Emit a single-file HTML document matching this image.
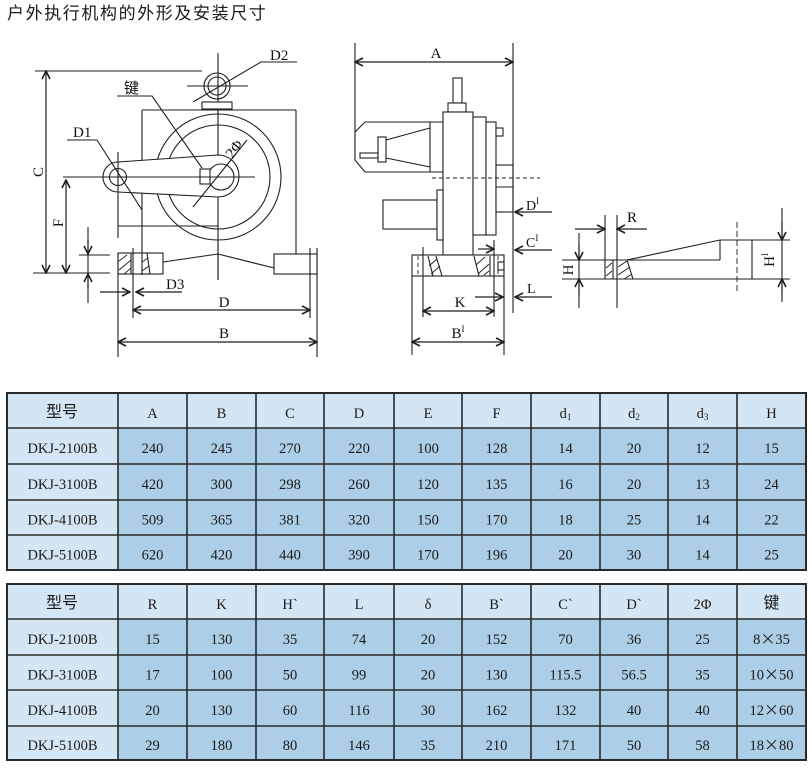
<!DOCTYPE html>
<html><head><meta charset="utf-8"><style>
html,body{margin:0;padding:0;background:#fff;}
svg{display:block;}
.ln{stroke:#1e1e1e;stroke-width:1.1;fill:none;}
.th{stroke:#1e1e1e;stroke-width:0.9;fill:none;}
.ar{stroke:#1e1e1e;stroke-width:1.2;fill:none;}
.lbl{font-family:"Liberation Serif",serif;font-size:15px;fill:#111;}
.tt{font-family:"Liberation Serif","Noto Sans CJK SC",serif;font-size:14.5px;fill:#1a1a1a;text-anchor:middle;}
.cj{font-family:"Liberation Sans","Noto Sans CJK SC",sans-serif;font-size:16px;fill:#1a1a1a;text-anchor:middle;}
.x{font-family:"Noto Sans CJK SC",sans-serif;font-size:15px;}
.grid{stroke:#2a2a2a;stroke-width:1.6;fill:none;}
</style></head><body>
<svg width="812" height="769" viewBox="0 0 812 769" xmlns="http://www.w3.org/2000/svg">
<defs>
<marker id="ah" viewBox="0 0 10 10" refX="9" refY="5" markerWidth="10" markerHeight="10" markerUnits="userSpaceOnUse" orient="auto-start-reverse">
<polyline points="1,1 9,5 1,9" fill="none" stroke="#1e1e1e" stroke-width="1.6"/>
</marker>
</defs>
<rect width="812" height="769" fill="#fff"/>
<text x="7" y="19" style="font-family:'Liberation Sans','Noto Sans CJK SC',sans-serif;font-size:17px;letter-spacing:1.6px;fill:#1a1a1a;">户外执行机构的外形及安装尺寸</text>

<!-- ===== LEFT DIAGRAM ===== -->
<g class="ln">
<line x1="218" y1="53" x2="218" y2="280"/>
<line x1="35" y1="71" x2="202" y2="71"/>
<circle cx="217" cy="86" r="13"/>
<circle cx="217" cy="86" r="9"/>
<line x1="187" y1="86" x2="248" y2="86"/>
<rect x="202" y="102" width="30" height="7" fill="#fff"/>
<polyline points="193,102 261,62 297,62"/>
<line x1="142" y1="110" x2="296" y2="110"/>
<line x1="142" y1="110" x2="142" y2="275"/>
<line x1="296" y1="110" x2="296" y2="254"/>
<circle cx="218" cy="177" r="63" fill="#fff"/>
<circle cx="218" cy="177" r="52"/>
<line x1="218" y1="110" x2="218" y2="280"/>
<path d="M118,162 L218,155 A21,21 0 0 1 218,197 L118,192 A15,15 0 0 1 118,162 Z" fill="#fff"/>
<circle cx="221" cy="177" r="13"/>
<circle cx="118" cy="177" r="8.5"/>
<rect x="200" y="169" width="10" height="15" fill="#fff"/>
<line x1="63" y1="177" x2="255" y2="177"/>
<line x1="118" y1="152" x2="118" y2="238"/>
<line x1="118" y1="226" x2="218" y2="226"/>
<polyline points="67,140 97,140 142,210"/>
<polyline points="117,96 152,96 202,168"/>
<line x1="247" y1="140" x2="193" y2="207"/>
<rect x="118" y="253" width="45" height="21" fill="#fff"/>
<rect x="274" y="254" width="43" height="20" fill="#fff"/>
<polyline points="163,262 218,254 274,268"/>
<line x1="131" y1="253" x2="131" y2="274"/>
<line x1="142" y1="253" x2="142" y2="275"/>
<line x1="147" y1="253" x2="150" y2="274"/>
<line x1="118" y1="253" x2="118" y2="357"/>
<line x1="133" y1="248" x2="133" y2="318"/>
<line x1="310" y1="248" x2="310" y2="318"/>
<line x1="317" y1="248" x2="317" y2="357"/>
<line x1="33" y1="273" x2="110" y2="273"/>
<line x1="79" y1="255" x2="110" y2="255"/>
<line x1="88" y1="227" x2="88" y2="303"/>
</g>
<g class="th">
<line x1="119" y1="261" x2="127" y2="255"/>
<line x1="119" y1="270" x2="131" y2="260"/>
<line x1="124" y1="274" x2="131" y2="268"/>
<line x1="142" y1="262" x2="148" y2="258"/>
<line x1="142" y1="271" x2="149" y2="266"/>
</g>
<g class="ar">
<line x1="46" y1="71" x2="46" y2="273" marker-start="url(#ah)" marker-end="url(#ah)"/>
<line x1="66" y1="180" x2="66" y2="273" marker-start="url(#ah)" marker-end="url(#ah)"/>
<line x1="88" y1="240" x2="88" y2="254" marker-end="url(#ah)"/>
<line x1="88" y1="288" x2="88" y2="274" marker-end="url(#ah)"/>
<line x1="100" y1="292" x2="130" y2="292" marker-end="url(#ah)"/>
<line x1="182" y1="292" x2="136" y2="292" marker-end="url(#ah)"/>
<line x1="133" y1="310" x2="310" y2="310" marker-start="url(#ah)" marker-end="url(#ah)"/>
<line x1="118" y1="342" x2="317" y2="342" marker-start="url(#ah)" marker-end="url(#ah)"/>
</g>
<text class="lbl" x="270" y="60">D2</text>
<text class="lbl" x="73" y="137">D1</text>
<text x="124" y="93" style="font-family:'Liberation Sans','Noto Sans CJK SC',sans-serif;font-size:15px;fill:#111;">键</text>
<text class="lbl" transform="translate(238,152) rotate(-52)" text-anchor="middle">2Φ</text>
<text class="lbl" transform="translate(43,172) rotate(-90)" text-anchor="middle">C</text>
<text class="lbl" transform="translate(63,223) rotate(-90)" text-anchor="middle">F</text>
<text class="lbl" x="166" y="289">D3</text>
<text class="lbl" x="224" y="307" text-anchor="middle">D</text>
<text class="lbl" x="224" y="338" text-anchor="middle">B</text>

<!-- ===== MIDDLE DIAGRAM ===== -->
<g class="ln">
<line x1="355" y1="43" x2="355" y2="160"/>
<line x1="513" y1="43" x2="513" y2="153"/>
<polygon points="355,132 365,122 443,122 443,172 365,172 355,160" fill="#fff"/>
<line x1="430" y1="122" x2="430" y2="172"/>
<line x1="386" y1="140" x2="430" y2="128"/>
<line x1="386" y1="158" x2="430" y2="167"/>
<rect x="378" y="137" width="8" height="25" fill="#fff"/>
<rect x="360" y="153" width="18" height="5" fill="#fff"/>
<rect x="453" y="78" width="9" height="25" fill="#fff"/>
<rect x="448" y="103" width="18" height="9" fill="#fff"/>
<rect x="443" y="112" width="30" height="143" fill="#fff"/>
<rect x="473" y="117" width="13" height="118" fill="#fff"/>
<rect x="486" y="122" width="10" height="113" fill="#fff"/>
<rect x="496" y="128" width="7" height="8" fill="#fff"/>
<rect x="496" y="165" width="17" height="47" fill="#fff"/>
<line x1="496" y1="187" x2="513" y2="187"/>
<line x1="513" y1="153" x2="513" y2="313"/>
<rect x="383" y="200" width="54" height="29" fill="#fff"/>
<rect x="437" y="190" width="6" height="50" fill="#fff"/>
<rect x="412" y="255" width="92" height="21" fill="#fff"/>
<line x1="443" y1="255" x2="473" y2="255"/>
<line x1="428" y1="256" x2="433" y2="276"/>
<line x1="436" y1="256" x2="442" y2="276"/>
<line x1="474" y1="256" x2="479" y2="276"/>
<line x1="490" y1="256" x2="490" y2="276"/>
<rect x="498" y="262" width="6" height="8"/>
<line x1="423" y1="247" x2="423" y2="317"/>
<line x1="494" y1="240" x2="494" y2="317"/>
<line x1="412" y1="276" x2="412" y2="355"/>
<line x1="504" y1="276" x2="504" y2="355"/>
</g>
<g class="th" stroke-dasharray="4,3">
<line x1="432" y1="178" x2="540" y2="178"/>
<line x1="418" y1="256" x2="418" y2="276"/>
<line x1="498" y1="256" x2="498" y2="276"/>
</g>
<g class="th">
<line x1="429" y1="266" x2="437" y2="259"/>
<line x1="431" y1="274" x2="440" y2="266"/>
<line x1="476" y1="265" x2="485" y2="257"/>
<line x1="478" y1="274" x2="489" y2="264"/>
<line x1="484" y1="275" x2="489" y2="271"/>
</g>
<g class="ar">
<line x1="355" y1="62" x2="513" y2="62" marker-start="url(#ah)" marker-end="url(#ah)"/>
<line x1="552" y1="212" x2="515" y2="212" marker-end="url(#ah)"/>
<line x1="552" y1="250" x2="515" y2="250" marker-end="url(#ah)"/>
<line x1="478" y1="249" x2="494" y2="249" marker-end="url(#ah)"/>
<line x1="552" y1="297" x2="515" y2="297" marker-end="url(#ah)"/>
<line x1="475" y1="297" x2="503" y2="297" marker-end="url(#ah)"/>
<line x1="423" y1="311" x2="494" y2="311" marker-start="url(#ah)" marker-end="url(#ah)"/>
<line x1="412" y1="342" x2="504" y2="342" marker-start="url(#ah)" marker-end="url(#ah)"/>
</g>
<text class="lbl" x="436" y="58" text-anchor="middle">A</text>
<text class="lbl" x="526" y="210" style="font-size:14px">D<tspan font-size="9" dy="-6">I</tspan></text>
<text class="lbl" x="526" y="247" style="font-size:14px">C<tspan font-size="9" dy="-6">I</tspan></text>
<text class="lbl" x="527" y="293" style="font-size:14px">L</text>
<text class="lbl" x="460" y="307" text-anchor="middle">K</text>
<text class="lbl" x="458" y="338" text-anchor="middle">B<tspan font-size="9" dy="-6">I</tspan></text>

<!-- ===== RIGHT DIAGRAM ===== -->
<g class="ln">
<line x1="562" y1="279" x2="790" y2="279"/>
<line x1="562" y1="260" x2="720" y2="260"/>
<line x1="627" y1="260" x2="720" y2="240"/>
<line x1="720" y1="240" x2="790" y2="240"/>
<line x1="720" y1="240" x2="720" y2="260"/>
<line x1="752" y1="240" x2="752" y2="279"/>
<line x1="605" y1="215" x2="605" y2="279"/>
<line x1="617" y1="215" x2="617" y2="308"/>
<line x1="613" y1="260" x2="613" y2="279"/>
<line x1="627" y1="260" x2="633" y2="279"/>
<line x1="579" y1="233" x2="579" y2="308"/>
<line x1="782" y1="208" x2="782" y2="302"/>
</g>
<g class="th" stroke-dasharray="6,3">
<line x1="737" y1="222" x2="737" y2="293"/>
</g>
<g class="th">
<line x1="606" y1="268" x2="612" y2="263"/>
<line x1="606" y1="276" x2="612" y2="271"/>
<line x1="618" y1="267" x2="627" y2="261"/>
<line x1="618" y1="275" x2="630" y2="267"/>
<line x1="624" y1="279" x2="632" y2="274"/>
</g>
<g class="ar">
<line x1="575" y1="229" x2="605" y2="229" marker-end="url(#ah)"/>
<line x1="647" y1="229" x2="617" y2="229" marker-end="url(#ah)"/>
<line x1="579" y1="245" x2="579" y2="260" marker-end="url(#ah)"/>
<line x1="579" y1="295" x2="579" y2="279" marker-end="url(#ah)"/>
<line x1="782" y1="222" x2="782" y2="240" marker-end="url(#ah)"/>
<line x1="782" y1="295" x2="782" y2="279" marker-end="url(#ah)"/>
</g>
<text class="lbl" x="627" y="222">R</text>
<text class="lbl" transform="translate(573,270) rotate(-90)" text-anchor="middle">H</text>
<text class="lbl" transform="translate(774,260) rotate(-90)" text-anchor="middle">H<tspan font-size="9" dy="-6">I</tspan></text>

<!-- ===== TABLE 1 ===== -->
<rect x="7" y="393" width="799" height="35" fill="#d4e6f3"/>
<rect x="7" y="428" width="111" height="142" fill="#d4e6f3"/>
<rect x="118" y="428" width="688" height="142" fill="#accee6"/>
<g class="grid">
<rect x="7" y="393" width="799" height="177" stroke-width="2"/>
<line x1="7" y1="428" x2="806" y2="428"/><line x1="7" y1="464" x2="806" y2="464"/>
<line x1="7" y1="500" x2="806" y2="500"/><line x1="7" y1="535" x2="806" y2="535"/>
<line x1="118" y1="393" x2="118" y2="570"/><line x1="187" y1="393" x2="187" y2="570"/>
<line x1="256" y1="393" x2="256" y2="570"/><line x1="324" y1="393" x2="324" y2="570"/>
<line x1="394" y1="393" x2="394" y2="570"/><line x1="462" y1="393" x2="462" y2="570"/>
<line x1="531" y1="393" x2="531" y2="570"/><line x1="600" y1="393" x2="600" y2="570"/>
<line x1="668" y1="393" x2="668" y2="570"/><line x1="737" y1="393" x2="737" y2="570"/>
</g>
<text class="cj" x="62" y="417">型号</text>
<g class="tt">
<text x="152.5" y="418">A</text><text x="221.5" y="418">B</text><text x="290" y="418">C</text>
<text x="359" y="418">D</text><text x="428" y="418">E</text><text x="496.5" y="418">F</text>
<text x="565.5" y="418">d<tspan font-size="9" dy="2">1</tspan></text>
<text x="634" y="418">d<tspan font-size="9" dy="2">2</tspan></text>
<text x="702.5" y="418">d<tspan font-size="9" dy="2">3</tspan></text>
<text x="771.5" y="418">H</text>

<text x="62.5" y="453">DKJ-2100B</text><text x="152.5" y="453">240</text><text x="221.5" y="453">245</text><text x="290" y="453">270</text><text x="359" y="453">220</text><text x="428" y="453">100</text><text x="496.5" y="453">128</text><text x="565.5" y="453">14</text><text x="634" y="453">20</text><text x="702.5" y="453">12</text><text x="771.5" y="453">15</text>
<text x="62.5" y="489">DKJ-3100B</text><text x="152.5" y="489">420</text><text x="221.5" y="489">300</text><text x="290" y="489">298</text><text x="359" y="489">260</text><text x="428" y="489">120</text><text x="496.5" y="489">135</text><text x="565.5" y="489">16</text><text x="634" y="489">20</text><text x="702.5" y="489">13</text><text x="771.5" y="489">24</text>
<text x="62.5" y="524.5">DKJ-4100B</text><text x="152.5" y="524.5">509</text><text x="221.5" y="524.5">365</text><text x="290" y="524.5">381</text><text x="359" y="524.5">320</text><text x="428" y="524.5">150</text><text x="496.5" y="524.5">170</text><text x="565.5" y="524.5">18</text><text x="634" y="524.5">25</text><text x="702.5" y="524.5">14</text><text x="771.5" y="524.5">22</text>
<text x="62.5" y="559.5">DKJ-5100B</text><text x="152.5" y="559.5">620</text><text x="221.5" y="559.5">420</text><text x="290" y="559.5">440</text><text x="359" y="559.5">390</text><text x="428" y="559.5">170</text><text x="496.5" y="559.5">196</text><text x="565.5" y="559.5">20</text><text x="634" y="559.5">30</text><text x="702.5" y="559.5">14</text><text x="771.5" y="559.5">25</text>
</g>

<!-- ===== TABLE 2 ===== -->
<rect x="7" y="584" width="799" height="35" fill="#d4e6f3"/>
<rect x="7" y="619" width="111" height="141" fill="#d4e6f3"/>
<rect x="118" y="619" width="688" height="141" fill="#accee6"/>
<g class="grid">
<rect x="7" y="584" width="799" height="176" stroke-width="2"/>
<line x1="7" y1="619" x2="806" y2="619"/><line x1="7" y1="655" x2="806" y2="655"/>
<line x1="7" y1="690" x2="806" y2="690"/><line x1="7" y1="726" x2="806" y2="726"/>
<line x1="118" y1="584" x2="118" y2="760"/><line x1="187" y1="584" x2="187" y2="760"/>
<line x1="256" y1="584" x2="256" y2="760"/><line x1="324" y1="584" x2="324" y2="760"/>
<line x1="394" y1="584" x2="394" y2="760"/><line x1="462" y1="584" x2="462" y2="760"/>
<line x1="531" y1="584" x2="531" y2="760"/><line x1="600" y1="584" x2="600" y2="760"/>
<line x1="668" y1="584" x2="668" y2="760"/><line x1="737" y1="584" x2="737" y2="760"/>
</g>
<text class="cj" x="62" y="608">型号</text>
<text class="cj" x="771.5" y="608">键</text>
<g class="tt">
<text x="152.5" y="609">R</text><text x="221.5" y="609">K</text><text x="290" y="609">H`</text>
<text x="359" y="609">L</text><text x="428" y="609">δ</text><text x="496.5" y="609">B`</text>
<text x="565.5" y="609">C`</text><text x="634" y="609">D`</text><text x="702.5" y="609">2Φ</text>

<text x="62.5" y="644">DKJ-2100B</text><text x="152.5" y="644">15</text><text x="221.5" y="644">130</text><text x="290" y="644">35</text><text x="359" y="644">74</text><text x="428" y="644">20</text><text x="496.5" y="644">152</text><text x="565.5" y="644">70</text><text x="634" y="644">36</text><text x="702.5" y="644">25</text><text x="771.5" y="644">8<tspan class="x">×</tspan>35</text>
<text x="62.5" y="679.5">DKJ-3100B</text><text x="152.5" y="679.5">17</text><text x="221.5" y="679.5">100</text><text x="290" y="679.5">50</text><text x="359" y="679.5">99</text><text x="428" y="679.5">20</text><text x="496.5" y="679.5">130</text><text x="565.5" y="679.5">115.5</text><text x="634" y="679.5">56.5</text><text x="702.5" y="679.5">35</text><text x="771.5" y="679.5">10<tspan class="x">×</tspan>50</text>
<text x="62.5" y="715">DKJ-4100B</text><text x="152.5" y="715">20</text><text x="221.5" y="715">130</text><text x="290" y="715">60</text><text x="359" y="715">116</text><text x="428" y="715">30</text><text x="496.5" y="715">162</text><text x="565.5" y="715">132</text><text x="634" y="715">40</text><text x="702.5" y="715">40</text><text x="771.5" y="715">12<tspan class="x">×</tspan>60</text>
<text x="62.5" y="750">DKJ-5100B</text><text x="152.5" y="750">29</text><text x="221.5" y="750">180</text><text x="290" y="750">80</text><text x="359" y="750">146</text><text x="428" y="750">35</text><text x="496.5" y="750">210</text><text x="565.5" y="750">171</text><text x="634" y="750">50</text><text x="702.5" y="750">58</text><text x="771.5" y="750">18<tspan class="x">×</tspan>80</text>
</g>
</svg>
</body></html>
